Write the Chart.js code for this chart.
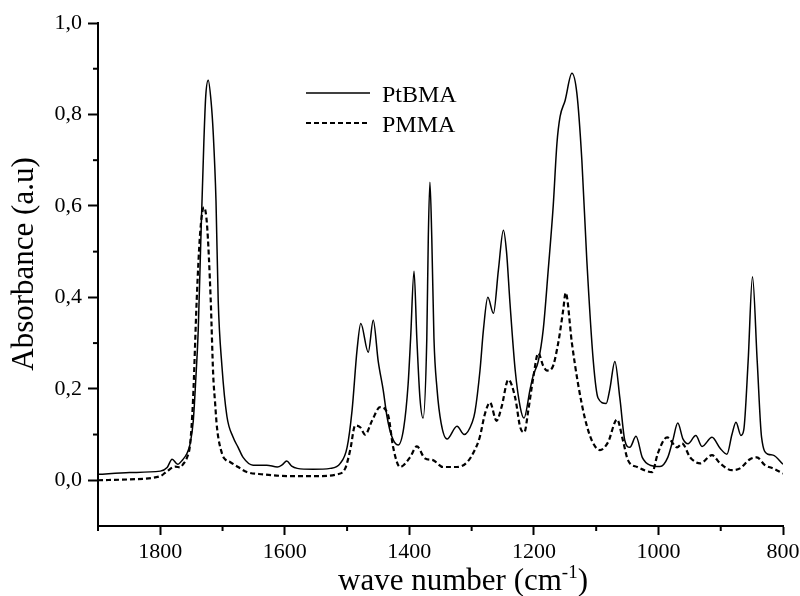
<!DOCTYPE html>
<html>
<head>
<meta charset="utf-8">
<script src="https://cdn.jsdelivr.net/npm/chart.js@4.4.1/dist/chart.umd.min.js"></script>
<style>
  html, body { margin: 0; padding: 0; background: #fff; }
  #wrap { width: 800px; height: 596px; }
</style>
</head>
<body>
<div id="wrap"><canvas id="ftir"></canvas></div>
<script>
// FTIR spectra, wavenumber (cm-1) vs absorbance
const ptbmaWave = [1900, 1849, 1800, 1789, 1781, 1772, 1764, 1757, 1752, 1747, 1743, 1739, 1735, 1730, 1727, 1723,
  1718.5, 1715, 1710.5, 1707, 1701, 1693, 1683, 1675, 1667, 1651, 1629, 1612, 1604, 1597, 1589, 1580, 1555, 1527,
  1511, 1500, 1492, 1484, 1478, 1466, 1458, 1450, 1442, 1436, 1428, 1418, 1409, 1402, 1398, 1392.5, 1388, 1383,
  1378, 1372, 1369.6, 1367, 1364, 1360.5, 1355.6, 1349, 1339.5, 1323.5, 1312, 1299, 1294.6, 1286.6, 1281, 1274,
  1265, 1257, 1249, 1244, 1238.4, 1230, 1222, 1216, 1206, 1201, 1193, 1185, 1177, 1169, 1163, 1158, 1150, 1139,
  1131, 1123, 1115, 1104.6, 1097, 1084, 1078, 1070, 1062, 1054, 1046, 1036, 1026, 1013.5, 997.5, 985, 977, 969,
  960.5, 952.5, 940, 930, 914, 901, 890, 882, 875.5, 867.5, 863, 856, 849, 841.4, 834.4, 824, 816, 800];
const ptbmaAbs = [0.013, 0.017, 0.02, 0.028, 0.046, 0.035, 0.045, 0.059, 0.08, 0.13, 0.22, 0.33, 0.52, 0.74, 0.84, 0.875,
  0.83, 0.76, 0.61, 0.394, 0.25, 0.14, 0.094, 0.072, 0.05, 0.033, 0.033, 0.029, 0.034, 0.042, 0.031, 0.026, 0.024, 0.026,
  0.037, 0.072, 0.153, 0.285, 0.343, 0.28, 0.35, 0.26, 0.197, 0.14, 0.095, 0.077, 0.115, 0.21, 0.31, 0.457, 0.31, 0.18,
  0.136, 0.31, 0.53, 0.652, 0.53, 0.31, 0.2, 0.125, 0.09, 0.118, 0.10, 0.127, 0.15, 0.24, 0.33, 0.40,
  0.365, 0.46, 0.547, 0.50, 0.387, 0.24, 0.16, 0.136, 0.20, 0.23, 0.26, 0.33, 0.46, 0.60, 0.737, 0.795, 0.83, 0.89,
  0.846, 0.70, 0.48, 0.26, 0.18, 0.168, 0.2, 0.26, 0.18, 0.087, 0.072, 0.096, 0.05, 0.033, 0.03, 0.05, 0.087, 0.125,
  0.09, 0.08, 0.098, 0.074, 0.094, 0.07, 0.057, 0.10, 0.127, 0.098, 0.11, 0.26, 0.445, 0.26, 0.094, 0.057, 0.055, 0.035];

const pmmaWave = [1900, 1849, 1800, 1789, 1776, 1768, 1763.5, 1757, 1752, 1747.4, 1741.5, 1736, 1730, 1725, 1719, 1715,
  1712, 1709, 1701, 1696, 1688, 1675, 1661, 1635, 1592, 1548, 1516, 1503, 1495, 1487, 1479, 1471, 1460, 1447, 1434,
  1426, 1415, 1399, 1388, 1375, 1362, 1346, 1323.5, 1307, 1295, 1287, 1278.5, 1270.5, 1260, 1252, 1241, 1230, 1222,
  1215.4, 1209, 1201, 1193, 1185, 1179, 1171, 1161, 1153, 1149, 1139, 1129, 1118, 1107, 1094, 1081, 1066.5, 1057,
  1049, 1034, 1010, 1001, 986, 970, 962, 949, 933, 914, 901, 882, 869, 853, 842, 829, 816, 800];
const pmmaAbs = [0.0, 0.002, 0.009, 0.02, 0.03, 0.028, 0.035, 0.05, 0.08, 0.175, 0.394, 0.54, 0.597, 0.56, 0.394, 0.23,
  0.17, 0.116, 0.059, 0.046, 0.04, 0.029, 0.018, 0.013, 0.009, 0.009, 0.013, 0.026, 0.066, 0.12, 0.116, 0.10, 0.13, 0.16, 0.142,
  0.072, 0.029, 0.05, 0.074, 0.048, 0.044, 0.029, 0.029, 0.04, 0.066, 0.094, 0.146, 0.17, 0.13, 0.16, 0.22, 0.18, 0.116,
  0.105, 0.153, 0.225, 0.278, 0.25, 0.24, 0.245, 0.30, 0.372, 0.41, 0.30, 0.21, 0.135, 0.087, 0.066, 0.083, 0.133, 0.087,
  0.044, 0.029, 0.018, 0.059, 0.094, 0.072, 0.08, 0.05, 0.037, 0.055, 0.037, 0.022, 0.026, 0.046, 0.05, 0.033, 0.026, 0.015];

const xTickValues = [1900, 1800, 1700, 1600, 1500, 1400, 1300, 1200, 1100, 1000, 900, 800];
const xTickLabels = ['', '1800', '', '1600', '', '1400', '', '1200', '', '1000', '', '800'];
const yTickValues = [-0.1, 0, 0.1, 0.2, 0.3, 0.4, 0.5, 0.6, 0.7, 0.8, 0.9, 1.0];
const yTickLabels = ['', '0,0', '', '0,2', '', '0,4', '', '0,6', '', '0,8', '', '1,0'];

const serif = "'Liberation Serif', 'Times New Roman', serif";
Chart.defaults.font.family = serif;
Chart.defaults.color = '#000';

const toPoints = (xs, ys) => xs.map((x, i) => ({ x: x, y: ys[i] }));

// short unlabelled ticks between the labelled ones
const minorTicks = {
  id: 'minorTicks',
  afterDraw(chart, args, opts) {
    const { ctx, scales: { x, y } } = chart;
    ctx.save();
    ctx.strokeStyle = '#000';
    ctx.lineWidth = 2;
    xTickValues.forEach((v, i) => {
      if (xTickLabels[i]) return;
      const px = x.getPixelForValue(v);
      ctx.beginPath();
      ctx.moveTo(px, x.top);
      ctx.lineTo(px, x.top + opts.length);
      ctx.stroke();
    });
    yTickValues.forEach((v, i) => {
      if (yTickLabels[i] || v < 0) return;
      const py = y.getPixelForValue(v);
      ctx.beginPath();
      ctx.moveTo(y.right, py);
      ctx.lineTo(y.right - opts.length, py);
      ctx.stroke();
    });
    ctx.restore();
  }
};

// axis titles, the x one with a real superscript
const axisTitles = {
  id: 'axisTitles',
  afterDraw(chart, args, opts) {
    const ctx = chart.ctx;
    const big = opts.size + 'px ' + serif;
    const small = opts.supSize + 'px ' + serif;
    ctx.save();
    ctx.fillStyle = '#000';
    ctx.textBaseline = 'alphabetic';

    // x title: "wave number (cm" + sup "-1" + ")"
    ctx.font = big;
    const head = 'wave number (cm';
    const tail = ')';
    const wHead = ctx.measureText(head).width;
    const wTail = ctx.measureText(tail).width;
    ctx.font = small;
    const wSup = ctx.measureText(opts.sup).width;
    let x0 = opts.xCenter - (wHead + wSup + wTail) / 2;
    ctx.font = big;
    ctx.fillText(head, x0, opts.xBaseline);
    ctx.font = small;
    ctx.fillText(opts.sup, x0 + wHead, opts.xBaseline - opts.supRaise);
    ctx.font = big;
    ctx.fillText(tail, x0 + wHead + wSup, opts.xBaseline);

    // y title, rotated
    ctx.translate(opts.yBaseline, opts.yCenter);
    ctx.rotate(-Math.PI / 2);
    ctx.textAlign = 'center';
    ctx.fillText('Absorbance (a.u)', 0, 0);
    ctx.restore();
  }
};

// legend drawn inside the plot area
const insideLegend = {
  id: 'insideLegend',
  afterDatasetsDraw(chart, args, opts) {
    const ctx = chart.ctx;
    ctx.save();
    ctx.font = opts.font;
    ctx.fillStyle = '#000';
    chart.data.datasets.forEach((ds, i) => {
      const y = opts.y + i * opts.rowHeight;
      ctx.beginPath();
      ctx.lineWidth = ds.borderWidth;
      ctx.strokeStyle = ds.borderColor;
      ctx.setLineDash(ds.borderDash || []);
      ctx.moveTo(opts.x, y);
      ctx.lineTo(opts.x + opts.lineLength, y);
      ctx.stroke();
      ctx.setLineDash([]);
      ctx.fillText(ds.label, opts.x + opts.lineLength + opts.gap, y + opts.textShift);
    });
    ctx.restore();
  }
};

const ctx = document.getElementById('ftir').getContext('2d');
const ftirChart = new Chart(ctx, {
  type: 'line',
  data: {
    datasets: [
      {
        label: 'PtBMA',
        data: toPoints(ptbmaWave, ptbmaAbs),
        borderColor: '#000',
        borderWidth: 1.5,
        pointRadius: 0,
        tension: 0.4,
        cubicInterpolationMode: 'monotone',
        fill: false
      },
      {
        label: 'PMMA',
        data: toPoints(pmmaWave, pmmaAbs),
        borderColor: '#000',
        borderWidth: 2.2,
        borderDash: [5, 3],
        pointRadius: 0,
        tension: 0.4,
        cubicInterpolationMode: 'monotone',
        fill: false
      }
    ]
  },
  options: {
    responsive: true,
    maintainAspectRatio: false,
    animation: false,
    layout: { padding: { left: 0, right: 17, top: 23, bottom: 0 } },
    plugins: {
      legend: { display: false },
      tooltip: { enabled: false },
      minorTicks: { length: 5 },
      axisTitles: {
        size: 31, supSize: 19, sup: '-1', supRaise: 12,
        xCenter: 463, xBaseline: 590,
        yCenter: 264, yBaseline: 33
      },
      insideLegend: { x: 306, y: 93, rowHeight: 30, lineLength: 64, gap: 12, textShift: 9, font: '24px ' + serif }
    },
    scales: {
      x: {
        type: 'linear',
        reverse: true,
        min: 800,
        max: 1900,
        afterBuildTicks: s => { s.ticks = xTickValues.map(v => ({ value: v })); },
        afterFit: s => { s.height = 70; s.paddingLeft = 0; s.paddingRight = 0; },
        border: { display: true, color: '#000', width: 2 },
        grid: {
          drawOnChartArea: false,
          tickLength: 9,
          tickWidth: 2,
          tickColor: c => (xTickLabels[c.index] ? '#000' : 'rgba(0,0,0,0)')
        },
        ticks: {
          autoSkip: false,
          maxRotation: 0,
          padding: 4,
          font: { size: 22 },
          callback: (v, i) => xTickLabels[i]
        }
      },
      y: {
        min: -0.1,
        max: 1.0,
        afterBuildTicks: s => { s.ticks = yTickValues.map(v => ({ value: v })); },
        afterFit: s => { s.width = 98; s.paddingTop = 0; s.paddingBottom = 0; },
        border: { display: true, color: '#000', width: 2 },
        grid: {
          drawOnChartArea: false,
          tickLength: 10,
          tickWidth: 2,
          tickColor: c => (yTickLabels[c.index] ? '#000' : 'rgba(0,0,0,0)')
        },
        ticks: {
          padding: 6,
          font: { size: 22 },
          callback: (v, i) => yTickLabels[i]
        }
      }
    }
  },
  plugins: [minorTicks, axisTitles, insideLegend]
});
</script>
</body>
</html>
